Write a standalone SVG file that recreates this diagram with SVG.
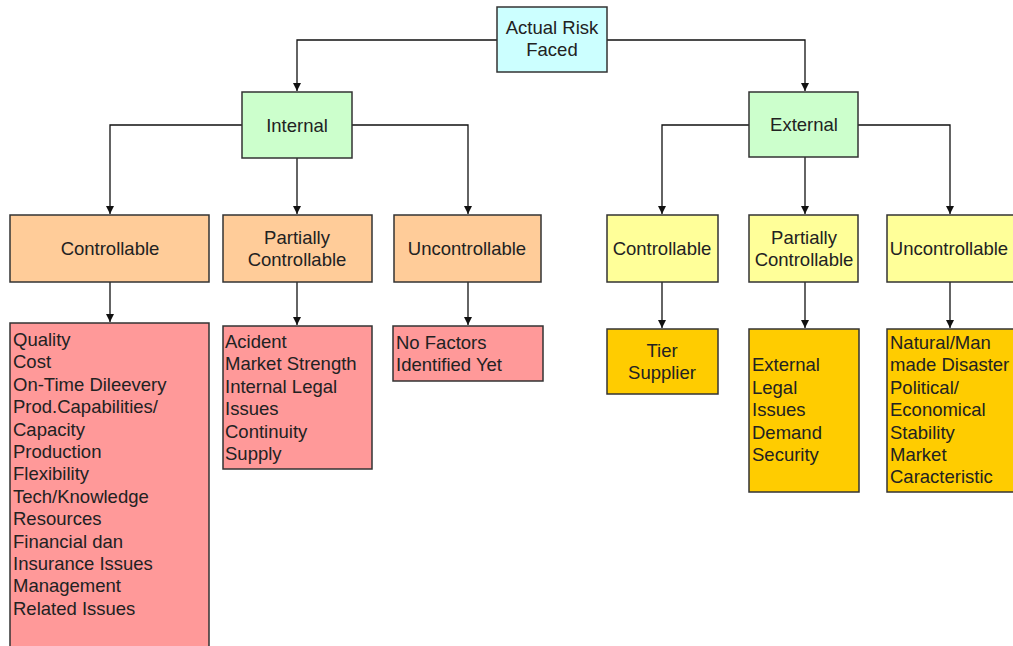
<svg xmlns="http://www.w3.org/2000/svg" width="1013" height="646" viewBox="0 0 1013 646">
<defs>
<marker id="ah" markerWidth="10" markerHeight="10" refX="9" refY="5" orient="auto" markerUnits="userSpaceOnUse">
<path d="M1,1 L9,5 L1,9 Z" fill="#111"/>
</marker>
<style>
.box{stroke:#333;stroke-width:1.5}
.root{fill:#CCFFFF}
.l1{fill:#CCFFCC}
.il2{fill:#FFCC99}
.il3{fill:#FF9999}
.el2{fill:#FFFF99}
.el3{fill:#FFCC00}
text{font-family:"Liberation Sans",Arial,sans-serif;font-size:18.5px;fill:#222;dominant-baseline:central}
.c{text-anchor:middle}
.conn{fill:none;stroke:#111;stroke-width:1.3}
</style>
</defs>
<rect width="1013" height="646" fill="#fff"/>
<g id="connectors">
<path class="conn" d="M497,40 H297 V91" marker-end="url(#ah)"/>
<path class="conn" d="M607,40 H805 V91" marker-end="url(#ah)"/>
<path class="conn" d="M242,125 H110 V214" marker-end="url(#ah)"/>
<path class="conn" d="M297,158 V214" marker-end="url(#ah)"/>
<path class="conn" d="M352,125 H468 V214" marker-end="url(#ah)"/>
<path class="conn" d="M749,125 H662 V214" marker-end="url(#ah)"/>
<path class="conn" d="M805,157 V214" marker-end="url(#ah)"/>
<path class="conn" d="M858,125 H950 V214" marker-end="url(#ah)"/>
<path class="conn" d="M110,282 V322" marker-end="url(#ah)"/>
<path class="conn" d="M297,282 V325" marker-end="url(#ah)"/>
<path class="conn" d="M468,282 V325" marker-end="url(#ah)"/>
<path class="conn" d="M662,282 V328" marker-end="url(#ah)"/>
<path class="conn" d="M805,282 V328" marker-end="url(#ah)"/>
<path class="conn" d="M950,282 V328" marker-end="url(#ah)"/>
</g>
<g id="root">
<rect class="box root" x="497" y="7" width="110" height="65"/>
<text class="c" x="552" y="27">Actual Risk</text>
<text class="c" x="552" y="49">Faced</text>
</g>
<g id="internal">
<rect class="box l1" x="242" y="92" width="110" height="66"/>
<text class="c" x="297" y="125">Internal</text>
</g>
<g id="external">
<rect class="box l1" x="749" y="92" width="109" height="65"/>
<text class="c" x="804" y="124">External</text>
</g>
<g id="int-controllable">
<rect class="box il2" x="10" y="215" width="199" height="67"/>
<text class="c" x="110" y="248">Controllable</text>
</g>
<g id="int-partial">
<rect class="box il2" x="223" y="215" width="149" height="67"/>
<text class="c" x="297" y="237">Partially</text>
<text class="c" x="297" y="259">Controllable</text>
</g>
<g id="int-uncontrollable">
<rect class="box il2" x="394" y="215" width="147" height="67"/>
<text class="c" x="467" y="248">Uncontrollable</text>
</g>
<g id="ext-controllable">
<rect class="box el2" x="607" y="215" width="111" height="67"/>
<text class="c" x="662" y="248">Controllable</text>
</g>
<g id="ext-partial">
<rect class="box el2" x="749" y="215" width="109" height="67"/>
<text class="c" x="804" y="237">Partially</text>
<text class="c" x="804" y="259">Controllable</text>
</g>
<g id="ext-uncontrollable">
<rect class="box el2" x="887" y="215" width="130" height="67"/>
<text class="c" x="949" y="248">Uncontrollable</text>
</g>
<g id="int-controllable-factors">
<rect class="box il3" x="10" y="323" width="199" height="330"/>
<text x="13" y="339">Quality</text>
<text x="13" y="361">Cost</text>
<text x="13" y="384">On-Time Dileevery</text>
<text x="13" y="406">Prod.Capabilities/</text>
<text x="13" y="429">Capacity</text>
<text x="13" y="451">Production</text>
<text x="13" y="473">Flexibility</text>
<text x="13" y="496">Tech/Knowledge</text>
<text x="13" y="518">Resources</text>
<text x="13" y="541">Financial dan</text>
<text x="13" y="563">Insurance Issues</text>
<text x="13" y="585">Management</text>
<text x="13" y="608">Related Issues</text>
</g>
<g id="int-partial-factors">
<rect class="box il3" x="223" y="326" width="149" height="143"/>
<text x="225" y="341">Acident</text>
<text x="225" y="363">Market Strength</text>
<text x="225" y="386">Internal Legal</text>
<text x="225" y="408">Issues</text>
<text x="225" y="431">Continuity</text>
<text x="225" y="453">Supply</text>
</g>
<g id="int-uncontrollable-factors">
<rect class="box il3" x="393" y="326" width="150" height="55"/>
<text x="396" y="342">No Factors</text>
<text x="396" y="364">Identified Yet</text>
</g>
<g id="ext-controllable-factors">
<rect class="box el3" x="607" y="329" width="111" height="65"/>
<text class="c" x="662" y="350">Tier</text>
<text class="c" x="662" y="372">Supplier</text>
</g>
<g id="ext-partial-factors">
<rect class="box el3" x="749" y="329" width="110" height="163"/>
<text x="752" y="364">External</text>
<text x="752" y="387">Legal</text>
<text x="752" y="409">Issues</text>
<text x="752" y="432">Demand</text>
<text x="752" y="454">Security</text>
</g>
<g id="ext-uncontrollable-factors">
<rect class="box el3" x="887" y="329" width="130" height="163"/>
<text x="890" y="342">Natural/Man</text>
<text x="890" y="364">made Disaster</text>
<text x="890" y="387">Political/</text>
<text x="890" y="409">Economical</text>
<text x="890" y="432">Stability</text>
<text x="890" y="454">Market</text>
<text x="890" y="476">Caracteristic</text>
</g>
</svg>
